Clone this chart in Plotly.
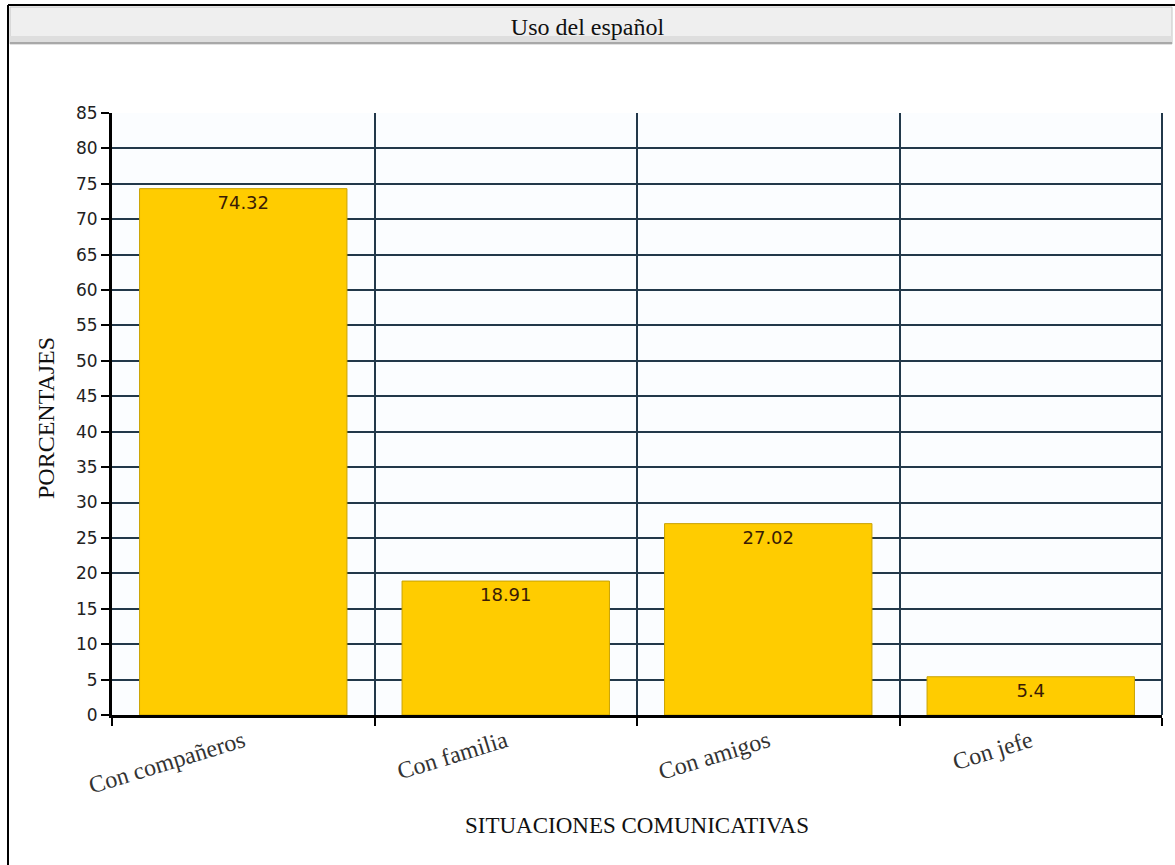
import plotly.graph_objects as go

categories = ["Con compañeros", "Con familia", "Con amigos", "Con jefe"]
values = [74.32, 18.91, 27.02, 5.4]
value_labels = ["74.32", "18.91", "27.02", "5.4"]
y_ticks = list(range(0, 90, 5))

title_text = "Uso del español"
x_title = "SITUACIONES COMUNICATIVAS"
y_title = "PORCENTAJES"

W, H = 1175, 865
L, R, T, B = 112, 13, 113, 150
pw = W - L - R
ph = H - T - B


def px(x):
    return (x - L) / pw


def py(y):
    return (H - B - y) / ph


fig = go.Figure()
fig.add_trace(go.Bar(
    x=categories,
    y=values,
    width=0.79,
    marker=dict(color="#FFCC00", line=dict(color="#c9a200", width=1)),
    text=value_labels,
    textposition="inside",
    insidetextanchor="end",
    textangle=0,
    textfont=dict(family="DejaVu Sans", size=18, color="#3a1c05"),
    cliponaxis=False,
))

serif = "Liberation Serif"

fig.update_layout(
    width=W, height=H,
    margin=dict(l=L, r=R, t=T, b=B),
    paper_bgcolor="white",
    plot_bgcolor="#fbfdff",
    showlegend=False,
    title=dict(text=title_text, x=0.5, xanchor="center", y=1 - 27 / H, yanchor="middle",
               font=dict(family=serif, size=24, color="#111")),
    xaxis=dict(
        type="category",
        range=[-0.5, 3.5],
        tickson="boundaries",
        showgrid=True, gridcolor="#22384a", gridwidth=1.5,
        ticks="outside", ticklen=8, tickcolor="black", tickwidth=2,
        tickangle=-17,
        tickfont=dict(family=serif, size=24, color="#333"),
        showline=True, linecolor="black", linewidth=3,
        zeroline=False,
    ),
    yaxis=dict(
        range=[0, 85],
        tickvals=y_ticks,
        showgrid=True, gridcolor="#22384a", gridwidth=1.5,
        ticks="outside", ticklen=8, tickcolor="black", tickwidth=2,
        tickfont=dict(family="DejaVu Sans", size=17, color="#222"),
        showline=True, linecolor="black", linewidth=3,
        zeroline=False,
    ),
)

# right edge of plot area
fig.add_shape(type="line", xref="paper", yref="paper", x0=1, x1=1, y0=0, y1=1,
              line=dict(color="#22384a", width=2))

# title bar
fig.add_shape(type="rect", xref="paper", yref="paper",
              x0=px(10), x1=px(1172), y0=py(44), y1=py(7),
              fillcolor="#efefef", line=dict(color="#c4c4c4", width=1), layer="below")
fig.add_shape(type="rect", xref="paper", yref="paper",
              x0=px(10), x1=px(1172), y0=py(44), y1=py(36),
              fillcolor="#dedede", line=dict(width=0), layer="below")
fig.add_shape(type="line", xref="paper", yref="paper",
              x0=px(10), x1=px(1172), y0=py(43), y1=py(43),
              line=dict(color="#a8a8a8", width=2))
# outer frame lines
fig.add_shape(type="line", xref="paper", yref="paper",
              x0=px(8), x1=px(1175), y0=py(5), y1=py(5),
              line=dict(color="black", width=2))
fig.add_shape(type="line", xref="paper", yref="paper",
              x0=px(8), x1=px(8), y0=py(5), y1=py(865),
              line=dict(color="black", width=2))

fig.add_annotation(text=x_title, xref="paper", yref="paper", x=px(637), y=py(825),
                   xanchor="center", yanchor="middle", showarrow=False,
                   font=dict(family=serif, size=23, color="#111"))
fig.add_annotation(text=y_title, xref="paper", yref="paper", x=px(46), y=py(418),
                   xanchor="center", yanchor="middle", showarrow=False, textangle=-90,
                   font=dict(family=serif, size=24, color="#111"))

fig.write_html("out.html")
